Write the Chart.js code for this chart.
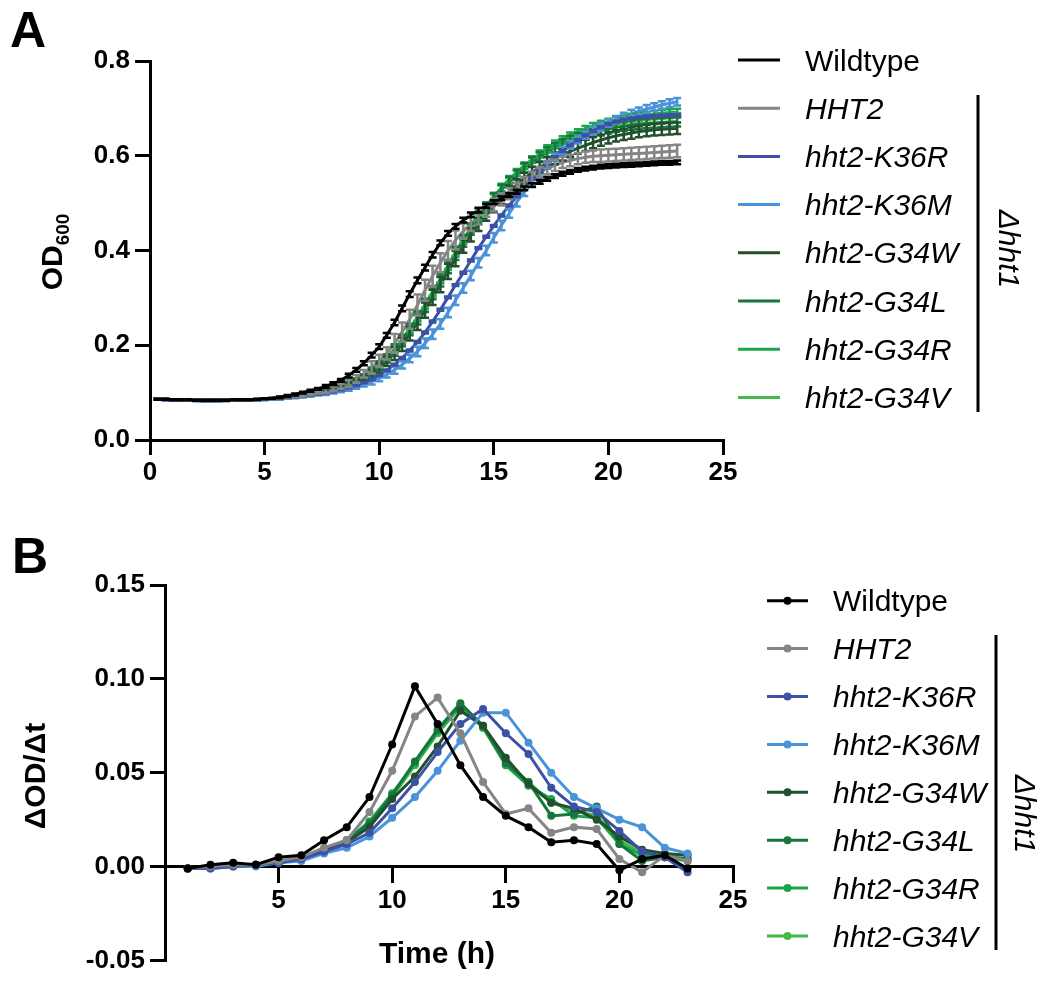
<!DOCTYPE html>
<html>
<head>
<meta charset="utf-8">
<script src="https://cdn.jsdelivr.net/npm/chart.js@4.4.1/dist/chart.umd.min.js"></script>
<style>
  html, body { margin: 0; padding: 0; background: #fff; }
  #wrap { position: relative; width: 1044px; height: 981px; }
  canvas { position: absolute; left: 0; }
  #cA { top: 0; }
  #cB { top: 490px; }
</style>
</head>
<body>
<div id="wrap">
  <canvas id="cA" width="1044" height="490"></canvas>
  <canvas id="cB" width="1044" height="491"></canvas>
</div>
<script>
// strains, in legend order
const strains = ['Wildtype', 'HHT2', 'hht2-K36R', 'hht2-K36M', 'hht2-G34W', 'hht2-G34L', 'hht2-G34R', 'hht2-G34V'];
const colors = ['#000000', '#858585', '#3C50A5', '#4A93D8', '#234F2E', '#17763C', '#19A64C', '#45B84B'];

// panel A: OD600 every 20 min
const timeA = [0.33, 0.67, 1, 1.33, 1.67, 2, 2.33, 2.67, 3, 3.33, 3.67, 4, 4.33, 4.67, 5, 5.33, 5.67,
  6, 6.33, 6.67, 7, 7.33, 7.67, 8, 8.33, 8.67, 9, 9.33, 9.67, 10, 10.33, 10.67, 11, 11.33, 11.67,
  12, 12.33, 12.67, 13, 13.33, 13.67, 14, 14.33, 14.67, 15, 15.33, 15.67, 16, 16.33, 16.67, 17, 17.33, 17.67,
  18, 18.33, 18.67, 19, 19.33, 19.67, 20, 20.33, 20.67, 21, 21.33, 21.67, 22, 22.33, 22.67, 23];

const odWT = [0.086, 0.086, 0.085, 0.085, 0.085, 0.084, 0.084, 0.084, 0.084, 0.084, 0.085, 0.085, 0.085, 0.086, 0.087, 0.088, 0.090,
  0.093, 0.096, 0.100, 0.104, 0.108, 0.113, 0.119, 0.126, 0.136, 0.148, 0.162, 0.179, 0.197, 0.221, 0.248, 0.278, 0.308, 0.337,
  0.364, 0.391, 0.416, 0.436, 0.451, 0.464, 0.475, 0.485, 0.494, 0.502, 0.510, 0.517, 0.524, 0.531, 0.538, 0.545, 0.551, 0.557,
  0.562, 0.566, 0.570, 0.573, 0.575, 0.577, 0.578, 0.579, 0.580, 0.581, 0.582, 0.583, 0.584, 0.585, 0.585, 0.586];
const odHHT2 = [0.086, 0.086, 0.085, 0.085, 0.084, 0.084, 0.084, 0.084, 0.084, 0.084, 0.084, 0.085, 0.085, 0.085, 0.086, 0.087, 0.089,
  0.091, 0.093, 0.095, 0.098, 0.101, 0.104, 0.108, 0.113, 0.120, 0.129, 0.140, 0.153, 0.167, 0.183, 0.204, 0.228, 0.255, 0.285,
  0.316, 0.346, 0.374, 0.400, 0.422, 0.441, 0.457, 0.471, 0.484, 0.496, 0.508, 0.520, 0.531, 0.543, 0.554, 0.564, 0.573, 0.580,
  0.586, 0.590, 0.594, 0.597, 0.599, 0.600, 0.601, 0.602, 0.603, 0.604, 0.605, 0.606, 0.607, 0.608, 0.609, 0.610];
const odK36R = [0.086, 0.085, 0.085, 0.084, 0.084, 0.084, 0.083, 0.083, 0.083, 0.084, 0.084, 0.084, 0.085, 0.085, 0.086, 0.087, 0.088,
  0.090, 0.091, 0.093, 0.095, 0.097, 0.099, 0.102, 0.106, 0.110, 0.115, 0.121, 0.128, 0.137, 0.147, 0.159, 0.173, 0.189, 0.207,
  0.227, 0.250, 0.275, 0.301, 0.327, 0.353, 0.379, 0.405, 0.429, 0.452, 0.474, 0.495, 0.515, 0.534, 0.552, 0.568, 0.583, 0.597,
  0.610, 0.622, 0.633, 0.643, 0.652, 0.660, 0.667, 0.672, 0.676, 0.679, 0.681, 0.683, 0.684, 0.685, 0.686, 0.686];
const odK36M = [0.086, 0.085, 0.085, 0.084, 0.084, 0.083, 0.083, 0.083, 0.083, 0.083, 0.084, 0.084, 0.084, 0.085, 0.085, 0.086, 0.087,
  0.089, 0.090, 0.092, 0.094, 0.096, 0.098, 0.101, 0.104, 0.108, 0.112, 0.117, 0.123, 0.130, 0.138, 0.148, 0.159, 0.172, 0.187,
  0.204, 0.223, 0.245, 0.269, 0.295, 0.321, 0.347, 0.374, 0.400, 0.427, 0.453, 0.478, 0.502, 0.524, 0.545, 0.564, 0.581, 0.597,
  0.611, 0.623, 0.634, 0.644, 0.653, 0.661, 0.669, 0.676, 0.683, 0.689, 0.694, 0.699, 0.703, 0.707, 0.711, 0.714];
const odG34W = [0.086, 0.086, 0.085, 0.085, 0.084, 0.084, 0.084, 0.084, 0.084, 0.084, 0.084, 0.085, 0.085, 0.085, 0.086, 0.087, 0.088,
  0.090, 0.092, 0.094, 0.096, 0.099, 0.102, 0.106, 0.110, 0.115, 0.121, 0.129, 0.139, 0.152, 0.166, 0.183, 0.202, 0.224, 0.248,
  0.274, 0.301, 0.328, 0.356, 0.383, 0.409, 0.433, 0.455, 0.475, 0.493, 0.510, 0.525, 0.539, 0.552, 0.564, 0.575, 0.585, 0.594,
  0.602, 0.609, 0.616, 0.622, 0.628, 0.633, 0.638, 0.642, 0.645, 0.648, 0.651, 0.653, 0.655, 0.656, 0.657, 0.658];
const odG34L = [0.086, 0.086, 0.085, 0.085, 0.084, 0.084, 0.084, 0.084, 0.084, 0.084, 0.084, 0.085, 0.085, 0.085, 0.086, 0.087, 0.088,
  0.090, 0.092, 0.094, 0.096, 0.099, 0.102, 0.106, 0.111, 0.117, 0.124, 0.133, 0.144, 0.157, 0.172, 0.190, 0.210, 0.233, 0.258,
  0.284, 0.311, 0.338, 0.366, 0.394, 0.420, 0.445, 0.468, 0.490, 0.510, 0.528, 0.545, 0.560, 0.574, 0.587, 0.598, 0.608, 0.617,
  0.625, 0.632, 0.638, 0.644, 0.649, 0.653, 0.657, 0.660, 0.663, 0.665, 0.667, 0.668, 0.669, 0.670, 0.671, 0.672];
const odG34R = [0.086, 0.086, 0.085, 0.085, 0.084, 0.084, 0.084, 0.084, 0.084, 0.084, 0.084, 0.085, 0.085, 0.085, 0.086, 0.087, 0.088,
  0.090, 0.092, 0.094, 0.097, 0.100, 0.103, 0.107, 0.112, 0.118, 0.125, 0.134, 0.145, 0.158, 0.173, 0.191, 0.211, 0.234, 0.259,
  0.285, 0.312, 0.340, 0.368, 0.396, 0.423, 0.448, 0.472, 0.494, 0.514, 0.533, 0.550, 0.565, 0.579, 0.592, 0.604, 0.615, 0.625,
  0.634, 0.642, 0.649, 0.656, 0.662, 0.667, 0.671, 0.675, 0.678, 0.681, 0.684, 0.686, 0.688, 0.690, 0.691, 0.692];
const odG34V = [0.086, 0.086, 0.085, 0.085, 0.084, 0.084, 0.084, 0.084, 0.084, 0.084, 0.084, 0.085, 0.085, 0.085, 0.086, 0.087, 0.088,
  0.090, 0.092, 0.094, 0.097, 0.100, 0.103, 0.107, 0.112, 0.118, 0.125, 0.134, 0.145, 0.158, 0.173, 0.191, 0.211, 0.234, 0.259,
  0.285, 0.312, 0.339, 0.367, 0.395, 0.422, 0.447, 0.470, 0.492, 0.512, 0.531, 0.548, 0.563, 0.577, 0.590, 0.602, 0.612, 0.621,
  0.630, 0.638, 0.645, 0.651, 0.657, 0.662, 0.666, 0.670, 0.673, 0.676, 0.678, 0.680, 0.682, 0.683, 0.684, 0.685];

// SD of OD600, one value per hour (0..23)
const sdWT   = [0.001, 0.001, 0.001, 0.001, 0.001, 0.001, 0.002, 0.002, 0.003, 0.004, 0.005, 0.006, 0.006, 0.005, 0.005, 0.004, 0.004, 0.004, 0.004, 0.004, 0.004, 0.004, 0.004, 0.004];
const sdHHT2 = [0.001, 0.001, 0.001, 0.001, 0.001, 0.001, 0.002, 0.003, 0.005, 0.008, 0.013, 0.020, 0.022, 0.020, 0.016, 0.013, 0.012, 0.012, 0.012, 0.012, 0.013, 0.013, 0.013, 0.013];
const sdK36R = [0.001, 0.001, 0.001, 0.001, 0.001, 0.001, 0.001, 0.001, 0.001, 0.001, 0.002, 0.002, 0.002, 0.002, 0.002, 0.002, 0.002, 0.002, 0.002, 0.002, 0.002, 0.002, 0.002, 0.002];
const sdK36M = [0.001, 0.001, 0.001, 0.001, 0.001, 0.001, 0.002, 0.002, 0.003, 0.004, 0.006, 0.008, 0.010, 0.010, 0.010, 0.010, 0.009, 0.008, 0.008, 0.008, 0.008, 0.008, 0.008, 0.008];
const sdG34W = [0.001, 0.001, 0.001, 0.001, 0.001, 0.001, 0.002, 0.003, 0.004, 0.006, 0.010, 0.014, 0.016, 0.016, 0.014, 0.012, 0.012, 0.012, 0.012, 0.012, 0.012, 0.012, 0.012, 0.012];
const sdG34L = [0.001, 0.001, 0.001, 0.001, 0.001, 0.001, 0.002, 0.003, 0.004, 0.006, 0.009, 0.012, 0.014, 0.014, 0.012, 0.011, 0.010, 0.010, 0.010, 0.010, 0.010, 0.010, 0.010, 0.010];
const sdG34R = [0.001, 0.001, 0.001, 0.001, 0.001, 0.001, 0.002, 0.002, 0.003, 0.004, 0.006, 0.008, 0.009, 0.009, 0.008, 0.008, 0.007, 0.007, 0.007, 0.007, 0.007, 0.007, 0.007, 0.007];
const sdG34V = [0.001, 0.001, 0.001, 0.001, 0.001, 0.001, 0.001, 0.002, 0.002, 0.003, 0.004, 0.005, 0.006, 0.006, 0.006, 0.006, 0.005, 0.005, 0.005, 0.005, 0.005, 0.005, 0.005, 0.005];

// panel B: hourly dOD/dt
const timeB = [1, 2, 3, 4, 5, 6, 7, 8, 9, 10, 11, 12, 13, 14, 15, 16, 17, 18, 19, 20, 21, 22, 23];
const rateWT   = [-0.001, 0.001, 0.002, 0.001, 0.005, 0.006, 0.014, 0.021, 0.037, 0.065, 0.096, 0.076, 0.054, 0.037, 0.027, 0.021, 0.013, 0.014, 0.012, -0.002, 0.004, 0.006, -0.001];
const rateHHT2 = [-0.001, 0.000, 0.001, 0.001, 0.003, 0.005, 0.010, 0.014, 0.029, 0.051, 0.080, 0.090, 0.071, 0.045, 0.028, 0.031, 0.018, 0.021, 0.020, 0.004, -0.003, 0.006, 0.003];
const rateK36R = [-0.001, -0.001, 0.000, 0.001, 0.002, 0.004, 0.008, 0.012, 0.018, 0.031, 0.045, 0.061, 0.076, 0.084, 0.071, 0.060, 0.042, 0.032, 0.029, 0.019, 0.008, 0.005, -0.003];
const rateK36M = [-0.001, -0.001, 0.000, 0.000, 0.002, 0.003, 0.007, 0.010, 0.016, 0.026, 0.037, 0.051, 0.067, 0.082, 0.082, 0.066, 0.050, 0.037, 0.031, 0.025, 0.021, 0.010, 0.007];
const rateG34W = [-0.001, 0.000, 0.001, 0.001, 0.002, 0.004, 0.009, 0.013, 0.021, 0.036, 0.048, 0.064, 0.083, 0.075, 0.058, 0.044, 0.034, 0.031, 0.025, 0.016, 0.009, 0.007, 0.006];
const rateG34L = [-0.001, 0.000, 0.001, 0.001, 0.002, 0.004, 0.009, 0.014, 0.023, 0.038, 0.056, 0.073, 0.087, 0.075, 0.055, 0.045, 0.027, 0.028, 0.032, 0.012, 0.003, 0.005, 0.004];
const rateG34R = [-0.001, 0.000, 0.001, 0.001, 0.002, 0.004, 0.009, 0.014, 0.024, 0.039, 0.055, 0.072, 0.086, 0.074, 0.054, 0.043, 0.036, 0.027, 0.026, 0.012, 0.006, 0.005, 0.003];
const rateG34V = [-0.001, 0.000, 0.001, 0.001, 0.002, 0.004, 0.009, 0.013, 0.023, 0.037, 0.054, 0.071, 0.085, 0.074, 0.056, 0.045, 0.034, 0.030, 0.027, 0.014, 0.007, 0.006, 0.004];

const ticksX = [0, 5, 10, 15, 20, 25];
const ticksA = [0, 0.2, 0.4, 0.6, 0.8];
const ticksB = [-0.05, 0, 0.05, 0.1, 0.15];

const odA = [odWT, odHHT2, odK36R, odK36M, odG34W, odG34L, odG34R, odG34V];
const sdA = [sdWT, sdHHT2, sdK36R, sdK36M, sdG34W, sdG34L, sdG34R, sdG34V];
const rateB = [rateWT, rateHHT2, rateK36R, rateK36M, rateG34W, rateG34L, rateG34R, rateG34V];

const fam = '"Liberation Sans", Arial, sans-serif';
Chart.defaults.font.family = fam;
Chart.defaults.color = '#000';

function axisOpts(extra) {
  return Object.assign({
    type: 'linear',
    grid: { drawOnChartArea: false, drawTicks: true, tickLength: 15, color: '#000', lineWidth: 3 },
    border: { color: '#000', width: 3 },
  }, extra);
}

const errorBars = {
  id: 'errorBars',
  afterDatasetsDraw(chart) {
    const ctx = chart.ctx, xs = chart.scales.x, ys = chart.scales.y;
    ctx.save();
    ctx.lineWidth = 2.5;
    for (let i = chart.data.datasets.length - 1; i >= 0; i--) {
      const ds = chart.data.datasets[i];
      ctx.strokeStyle = ds.borderColor;
      ds.data.forEach((p) => {
        const e = sdA[i][Math.round(p.x)];
        const px = xs.getPixelForValue(p.x);
        const yt = ys.getPixelForValue(p.y + e);
        const yb = ys.getPixelForValue(p.y - e);
        ctx.beginPath();
        ctx.moveTo(px, yt); ctx.lineTo(px, yb);
        ctx.moveTo(px - 4, yt); ctx.lineTo(px + 4, yt);
        ctx.moveTo(px - 4, yb); ctx.lineTo(px + 4, yb);
        ctx.stroke();
      });
    }
    ctx.restore();
  },
};

// legend, bracket and labels drawn around the plot
function decor(cfg) {
  return {
    id: 'decor',
    afterDraw(chart) {
      const ctx = chart.ctx;
      ctx.save();
      ctx.fillStyle = '#000';
      ctx.textBaseline = 'alphabetic';

      ctx.font = 'bold 50px ' + fam;
      ctx.textAlign = 'left';
      ctx.fillText(cfg.letter, cfg.letterX, cfg.letterY);

      ctx.font = 'bold 30px ' + fam;
      ctx.textAlign = 'center';
      ctx.fillText('Time (h)', cfg.xtX, cfg.xtY);

      ctx.save();
      ctx.translate(cfg.ytX, cfg.ytY);
      ctx.rotate(-Math.PI / 2);
      ctx.textAlign = 'left';
      ctx.font = 'bold 30px ' + fam;
      const w1 = ctx.measureText(cfg.yTitle).width;
      let w2 = 0;
      if (cfg.ySub) {
        ctx.font = 'bold 19px ' + fam;
        w2 = ctx.measureText(cfg.ySub).width;
      }
      const x0 = -(w1 + w2) / 2;
      ctx.font = 'bold 30px ' + fam;
      ctx.fillText(cfg.yTitle, x0, 0);
      if (cfg.ySub) {
        ctx.font = 'bold 19px ' + fam;
        ctx.fillText(cfg.ySub, x0 + w1, 7);
      }
      ctx.restore();

      chart.data.datasets.forEach((ds, i) => {
        const y = cfg.legY + i * cfg.legDy;
        ctx.strokeStyle = ds.borderColor;
        ctx.lineWidth = 3;
        ctx.beginPath();
        ctx.moveTo(cfg.legX0, y);
        ctx.lineTo(cfg.legX1, y);
        ctx.stroke();
        if (cfg.dots) {
          ctx.fillStyle = ds.borderColor;
          ctx.beginPath();
          ctx.arc((cfg.legX0 + cfg.legX1) / 2, y, 4, 0, Math.PI * 2);
          ctx.fill();
        }
        ctx.fillStyle = '#000';
        ctx.textAlign = 'left';
        ctx.font = (i === 0 ? '' : 'italic ') + '30px ' + fam;
        ctx.fillText(ds.label, cfg.legTx, y + 10.5);
      });

      ctx.fillStyle = '#000';
      ctx.fillRect(cfg.brX - 1.5, cfg.brY0, 3, cfg.brY1 - cfg.brY0);
      ctx.save();
      ctx.translate(cfg.dX, cfg.dY);
      ctx.rotate(Math.PI / 2);
      ctx.font = 'italic 30px ' + fam;
      ctx.textAlign = 'center';
      ctx.fillText('\u0394hht1', 0, 0);
      ctx.restore();

      ctx.restore();
    },
  };
}

new Chart(document.getElementById('cA'), {
  type: 'line',
  data: {
    datasets: strains.map((s, i) => ({
      label: s,
      data: timeA.map((t, k) => ({ x: t, y: odA[i][k] })),
      borderColor: colors[i],
      backgroundColor: colors[i],
      borderWidth: 3,
      pointRadius: 0,
      tension: 0,
    })),
  },
  options: {
    responsive: false,
    animation: false,
    devicePixelRatio: 1,
    layout: { padding: { left: 0, top: 61, right: 321, bottom: 0 } },
    plugins: { legend: { display: false }, tooltip: { enabled: false } },
    scales: {
      x: axisOpts({
        min: 0, max: 25,
        afterFit: (s) => { s.height = 50; },
        afterBuildTicks: (s) => { s.ticks = ticksX.map((v) => ({ value: v })); },
        ticks: { font: { size: 26, weight: 'bold' }, padding: 2, maxRotation: 0, autoSkip: false },
      }),
      y: axisOpts({
        min: 0, max: 0.8,
        afterFit: (s) => { s.width = 150; },
        afterBuildTicks: (s) => { s.ticks = ticksA.map((v) => ({ value: v })); },
        ticks: { font: { size: 26, weight: 'bold' }, padding: 5, callback: (v) => Number(v).toFixed(1) },
      }),
    },
  },
  plugins: [errorBars, decor({
    letter: 'A', letterX: 10, letterY: 47,
    xtX: 437, xtY: 531,
    ytX: 62, ytY: 252, yTitle: 'OD', ySub: '600',
    legY: 60, legDy: 48.2, legX0: 738, legX1: 780, legTx: 805, dots: false,
    brX: 978, brY0: 95, brY1: 412, dX: 999, dY: 249,
  })],
});

new Chart(document.getElementById('cB'), {
  type: 'line',
  data: {
    datasets: strains.map((s, i) => ({
      label: s,
      data: timeB.map((t, k) => ({ x: t, y: rateB[i][k] })),
      borderColor: colors[i],
      backgroundColor: colors[i],
      borderWidth: 3,
      pointRadius: 4,
      pointBorderWidth: 0,
      tension: 0,
    })),
  },
  options: {
    responsive: false,
    animation: false,
    devicePixelRatio: 1,
    layout: { padding: { left: 0, top: 95, right: 311, bottom: 0 } },
    plugins: { legend: { display: false }, tooltip: { enabled: false } },
    scales: {
      x: axisOpts({
        position: { y: 0 },
        min: 0, max: 25,
        afterFit: (s) => { s.height = 16; },
        afterBuildTicks: (s) => { s.ticks = ticksX.map((v) => ({ value: v })); },
        ticks: { font: { size: 26, weight: 'bold' }, padding: 4, maxRotation: 0, autoSkip: false,
          callback: (v) => (v === 0 ? '' : v) },
      }),
      y: axisOpts({
        min: -0.05, max: 0.15,
        afterFit: (s) => { s.width = 165; },
        afterBuildTicks: (s) => { s.ticks = ticksB.map((v) => ({ value: v })); },
        ticks: { font: { size: 26, weight: 'bold' }, padding: 5, callback: (v) => Number(v).toFixed(2) },
      }),
    },
  },
  plugins: [decor({
    letter: 'B', letterX: 12, letterY: 83,
    xtX: 437, xtY: 473,
    ytX: 45, ytY: 286, yTitle: '\u0394OD/\u0394t', ySub: '',
    legY: 110.7, legDy: 47.9, legX0: 767, legX1: 808, legTx: 833, dots: true,
    brX: 996, brY0: 145, brY1: 460, dX: 1015, dY: 324,
  })],
});
</script>
</body>
</html>
